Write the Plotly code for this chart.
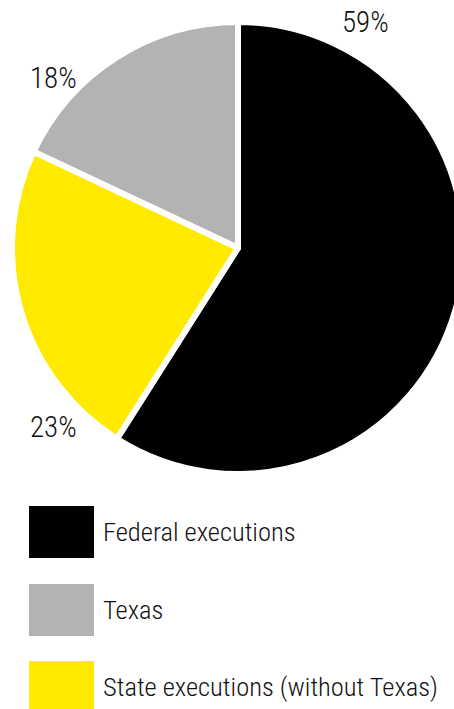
import plotly.graph_objects as go

labels = ["Federal executions", "Texas", "State executions (without Texas)"]
values = [59, 18, 23]
colors = ["#000000", "#b3b3b3", "#ffea00"]
# label placement (pixels) for the percentage texts, in the order of labels
label_px = [(365, 22), (53, 78), (53, 427)]

W, H = 476, 709
FONT = "Roboto Condensed, DejaVu Sans Condensed, sans-serif"

fig = go.Figure(go.Pie(
    labels=labels,
    values=values,
    marker=dict(colors=colors, line=dict(color="white", width=6)),
    sort=False,
    direction="counterclockwise",
    rotation=0,
    textinfo="none",
    hoverinfo="label+percent",
    showlegend=False,
    domain=dict(x=[0, 1], y=[(H - 474) / H, (H - 22) / H]),
))

total = sum(values)
annotations = []
for (px, py), v in zip(label_px, values):
    annotations.append(dict(
        x=px / W, y=1 - py / H, xref="paper", yref="paper",
        text=f"{round(100 * v / total)}%", showarrow=False,
        xanchor="center", yanchor="middle",
        font=dict(family=FONT, size=29, color="#111111", weight=300),
    ))

shapes = []
legend_rows = [506, 584, 661]
for lab, col, top in zip(labels, colors, legend_rows):
    shapes.append(dict(
        type="rect", xref="paper", yref="paper",
        x0=29 / W, x1=94 / W, y0=1 - (top + 52) / H, y1=1 - top / H,
        fillcolor=col, line=dict(width=0),
    ))
    annotations.append(dict(
        x=101 / W, y=1 - (top + 25) / H, xref="paper", yref="paper",
        text=lab, showarrow=False, xanchor="left", yanchor="middle",
        font=dict(family=FONT, size=26.5, color="#111111", weight=300),
    ))

fig.update_layout(
    width=W, height=H,
    margin=dict(l=0, r=0, t=0, b=0),
    paper_bgcolor="white", plot_bgcolor="white",
    annotations=annotations, shapes=shapes,
)

fig.write_html(
    "out.html",
    config={"displayModeBar": False},
    post_script="document.body.style.margin='0';document.body.style.overflow='hidden';document.documentElement.style.overflow='hidden';",
)
